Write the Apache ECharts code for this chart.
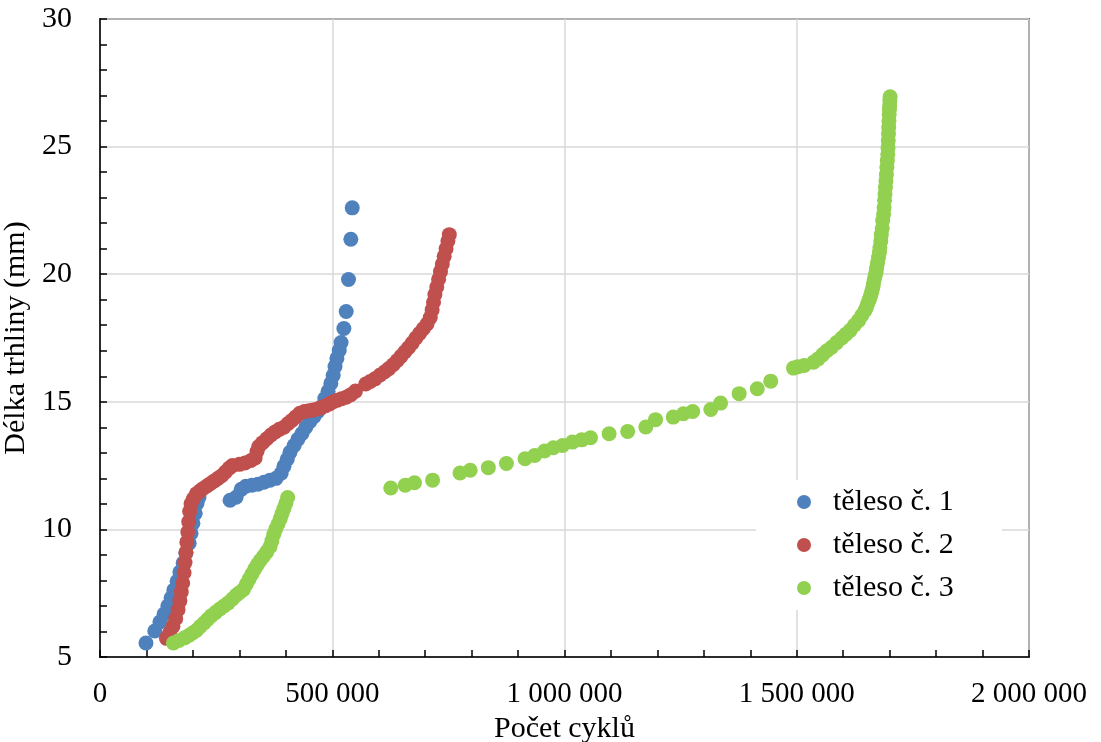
<!DOCTYPE html>
<html>
<head>
<meta charset="utf-8">
<script src="https://cdn.jsdelivr.net/npm/echarts@6/dist/echarts.min.js"></script>
<style>html,body{margin:0;padding:0;background:#fff}#c{width:1101px;height:742px}</style>
</head>
<body>
<div id="c"></div>
<script>
// [cycles, crack length mm]
const seriesNames = ['těleso č. 1', 'těleso č. 2', 'těleso č. 3'];
const xTicks = [0, 500000, 1000000, 1500000, 2000000];
const yTicks = [5, 10, 15, 20, 25, 30];

const series1 = [
  [99000,5.55],[118000,6.02],[129000,6.37],[138000,6.68],[146000,7.0],[153000,7.31],[159000,7.62],[166000,7.97],
  [172000,8.33],[179000,8.68],[185000,9.07],[192000,9.46],[196000,9.85],[200000,10.24],[205000,10.63],[209000,11.03],[213000,11.25],
  [280000,11.14],[293000,11.26],[304000,11.57],[314000,11.69],[327000,11.73],[340000,11.77],[353000,11.85],[366000,11.93],
  [379000,12.0],[390000,12.2],[396000,12.47],[403000,12.75],[409000,13.02],[418000,13.29],[426000,13.53],[435000,13.76],
  [443000,14.0],[452000,14.23],[461000,14.43],[469000,14.62],[478000,14.82],[484000,15.13],[491000,15.41],[497000,15.72],
  [502000,16.03],[506000,16.38],[510000,16.7],[515000,17.01],[519000,17.32],[525000,17.87],[530000,18.54],[535000,19.79],
  [540000,21.37],[543000,22.6]
];

const series2 = [
  [143000,5.73],[150000,5.95],[157000,6.2],[163000,6.5],[168000,6.85],[172000,7.2],[175000,7.55],[178000,7.9],
  [181000,8.3],[183000,8.7],[185000,9.1],[187000,9.5],[189000,9.9],[191000,10.3],[193000,10.7],[196000,11.0],
  [201000,11.2],[208000,11.4],[215000,11.5],[222000,11.6],[230000,11.7],[238000,11.8],[246000,11.9],[254000,12.0],
  [262000,12.1],[270000,12.25],[278000,12.4],[285000,12.5],[300000,12.55],[312000,12.6],[325000,12.7],[334000,12.8],
  [338000,13.05],[342000,13.25],[350000,13.4],[359000,13.55],[368000,13.7],[377000,13.82],[386000,13.92],[396000,14.0],
  [405000,14.15],[413000,14.27],[421000,14.4],[430000,14.55],[440000,14.62],[450000,14.65],[459000,14.68],[468000,14.72],
  [477000,14.78],[486000,14.85],[494000,14.92],[502000,15.0],[511000,15.06],[520000,15.12],[530000,15.18],[540000,15.28],
  [550000,15.42],
  [572000,15.7],[582000,15.8],[592000,15.9],[603000,16.05],[613000,16.18],[622000,16.3],[631000,16.45],[640000,16.62],
  [648000,16.78],[656000,16.95],[664000,17.12],[672000,17.3],[680000,17.5],[688000,17.68],[696000,17.86],[704000,18.05],
  [711000,18.3],[715000,18.6],[718000,18.9],[721000,19.2],[725000,19.5],[729000,19.8],[733000,20.1],[737000,20.4],
  [741000,20.7],[745000,21.0],[749000,21.3],[752000,21.55]
];

const series3 = [
  [158000,5.55],[170000,5.65],[182000,5.75],[192000,5.85],[200000,5.95],[208000,6.05],[216000,6.2],[224000,6.33],
  [232000,6.48],[240000,6.62],[249000,6.75],[258000,6.88],[267000,7.0],[276000,7.12],[285000,7.27],[293000,7.42],
  [300000,7.52],[309000,7.65],[315000,7.85],[321000,8.05],[327000,8.25],[333000,8.45],[339000,8.62],[345000,8.78],
  [352000,8.95],[359000,9.12],[366000,9.32],[370000,9.55],[374000,9.8],[378000,10.0],[383000,10.2],[388000,10.42],
  [392000,10.62],[396000,10.82],[400000,11.02],[404000,11.25],
  [626000,11.62],[657000,11.73],[677000,11.83],[716000,11.93],[775000,12.21],[797000,12.32],[836000,12.42],[875000,12.58],
  [915000,12.77],[936000,12.9],[957000,13.07],[976000,13.2],[996000,13.29],[1017000,13.42],[1037000,13.51],[1056000,13.59],
  [1096000,13.75],[1136000,13.84],[1175000,14.01],[1196000,14.3],[1234000,14.4],[1256000,14.53],[1276000,14.62],[1315000,14.7],
  [1336000,14.95],[1376000,15.32],[1415000,15.51],[1444000,15.81],[1493000,16.32],[1502000,16.37],[1516000,16.42],[1536000,16.55],
  [1546000,16.68],[1556000,16.85],[1565000,17.0],[1575000,17.14],[1586000,17.32],[1597000,17.5],[1606000,17.65],[1615000,17.8],
  [1624000,18.0],[1633000,18.18],[1640000,18.38],[1647000,18.58],[1650000,18.7],[1653000,18.85],[1656000,19.0],[1658000,19.1],
  [1660000,19.22],[1662000,19.35],[1664000,19.5],[1665000,19.62],[1667000,19.8],[1669000,19.95],[1671000,20.1],[1672000,20.27],
  [1674000,20.45],[1676000,20.65],[1678000,20.85],[1679000,21.05],[1681000,21.3],[1682000,21.55],[1684000,21.8],[1685000,22.1],
  [1687000,22.35],[1688000,22.6],[1689000,22.9],[1690000,23.14],[1691000,23.4],[1692000,23.65],[1693000,23.9],[1694000,24.18],
  [1695000,24.45],[1696000,24.7],[1696500,24.95],[1697000,25.23],[1697500,25.5],[1698000,25.75],[1698500,26.0],[1699000,26.27],
  [1699500,26.45],[1700000,26.6],[1700500,26.8],[1701000,26.95]
];

const colors = ['#4f81bd', '#c0504d', '#92d050'];
const FONT = '"Liberation Serif", "Times New Roman", serif';

function fmtSpace(v) {
  return String(Math.round(v)).replace(/\B(?=(\d{3})+(?!\d))/g, ' ');
}

const chart = echarts.init(document.getElementById('c'), null, {renderer: 'canvas'});
const axisCommon = {
  axisLine: {show: true, lineStyle: {color: '#000', width: 1.5}},
  axisTick: {show: true, inside: true, length: 7, lineStyle: {color: '#000', width: 1.5}},
  minorTick: {show: true, splitNumber: 5, length: 7, lineStyle: {color: '#000', width: 1.5}},
  splitLine: {show: true, lineStyle: {color: '#d9d9d9', width: 1.5}},
  nameTextStyle: {fontFamily: FONT, fontSize: 30, color: '#000'},
  axisLabel: {fontFamily: FONT, fontSize: 29, color: '#000'}
};

chart.setOption({
  animation: false,
  backgroundColor: '#fff',
  grid: {left: 100, right: 72, top: 19, bottom: 85, containLabel: false, outerBoundsMode: 'none',
         show: true, borderColor: '#000', borderWidth: 1.5, backgroundColor: 'transparent'},
  xAxis: Object.assign({}, axisCommon, {
    type: 'value', min: xTicks[0], max: xTicks[xTicks.length - 1], interval: 500000,
    name: 'Počet cyklů', nameLocation: 'middle', nameGap: 50,
    axisLabel: Object.assign({}, axisCommon.axisLabel, {margin: 23, formatter: fmtSpace})
  }),
  yAxis: Object.assign({}, axisCommon, {
    type: 'value', min: yTicks[0], max: yTicks[yTicks.length - 1], interval: 5,
    name: 'Délka trhliny (mm)', nameLocation: 'middle', nameGap: 59, nameRotate: 90,
    axisLabel: Object.assign({}, axisCommon.axisLabel, {fontSize: 30, margin: 28})
  }),
  legend: {
    orient: 'vertical', left: 756, top: 480,
    backgroundColor: '#fff',
    padding: [7, 48, 7, 41],
    itemWidth: 14, itemHeight: 14, itemGap: 13,
    icon: 'circle',
    textStyle: {fontFamily: FONT, fontSize: 30, color: '#000', lineHeight: 30, padding: [0, 0, 0, 17]},
    data: seriesNames
  },
  series: [series1, series2, series3].map((d, i) => ({
    name: seriesNames[i], type: 'scatter', data: d, symbol: 'circle', symbolSize: 15,
    itemStyle: {color: colors[i], opacity: 1}
  }))
});
</script>
</body>
</html>
